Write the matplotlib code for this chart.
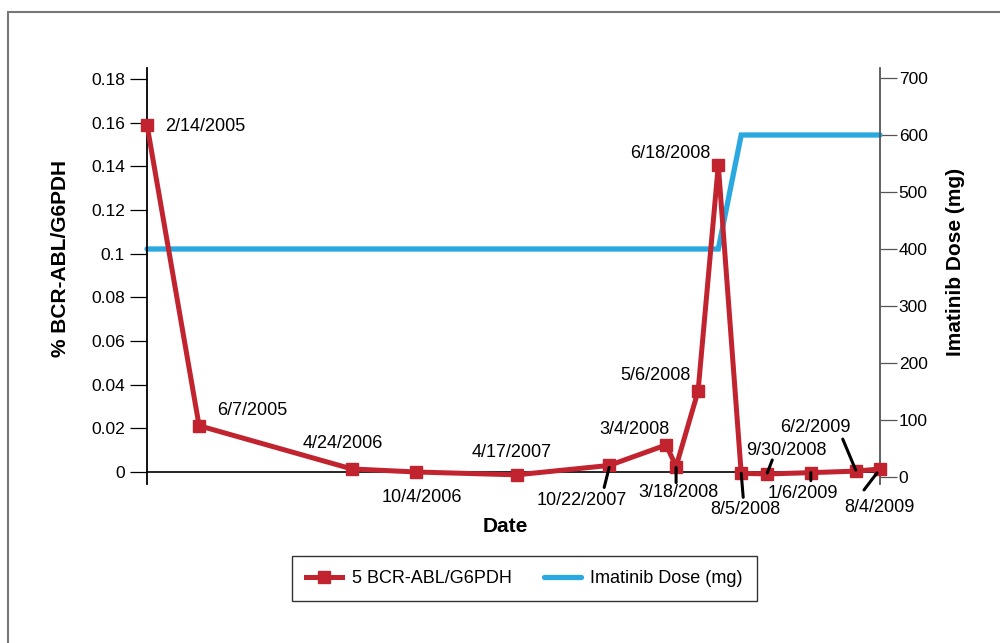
import matplotlib
matplotlib.use("Agg")
import matplotlib.pyplot as plt
from matplotlib.patches import Rectangle
from matplotlib.transforms import offset_copy

plt.rcParams['font.family'] = ['Liberation Sans', 'DejaVu Sans']

# ---- data ----
sample_dates = ['2/14/2005', '6/7/2005', '4/24/2006', '10/4/2006', '4/17/2007',
                '10/22/2007', '3/4/2008', '3/18/2008', '5/6/2008', '6/18/2008',
                '8/5/2008', '9/30/2008', '1/6/2009', '6/2/2009', '8/4/2009']
# position of each sample along the (unlabelled) time axis, as plotted (days from first sample)
sample_pos = [0, 116, 456, 600, 823, 1029, 1156, 1178, 1227, 1272,
              1323, 1381, 1478, 1578, 1632]
bcr_abl = [0.159, 0.0212, 0.0014, 0.0, -0.0013, 0.003, 0.0124, 0.0025, 0.0371, 0.1406,
           -0.0006, -0.0009, -0.0003, 0.0004, 0.0014]

dose_pos = [0, 1272, 1323, 1632]
dose_mg = [400, 400, 600, 600]

left_ticks = [0, 0.02, 0.04, 0.06, 0.08, 0.1, 0.12, 0.14, 0.16, 0.18]
left_ticklabels = ['0', '0.02', '0.04', '0.06', '0.08', '0.1', '0.12', '0.14', '0.16', '0.18']
right_ticks = [0, 100, 200, 300, 400, 500, 600, 700]

# label placement: (text offset dx, dy in px, ha, leader start, leader end)
label_style = [
    (18, -2, 'left', None),
    (18, 15, 'left', None),
    (-9, 25, 'center', None),
    (5, -25, 'center', None),
    (-5, 22, 'center', None),
    (-27, -35, 'center', ((-5, -22), (0, -2))),
    (-32, 15, 'center', None),
    (2, -26, 'center', ((0, -16), (0, -1))),
    (-43, 15, 'center', None),
    (-48, 12, 'center', None),
    (4, -36, 'center', ((0, 0), (2, -24))),
    (19, 23, 'center', ((0, 1), (5, 14))),
    (-8, -21, 'center', ((0, 0), (0, -8))),
    (-40, 44, 'center', ((-13, 32), (0, 1))),
    (-1, -39, 'center', ((-16, -21), (-3, -4))),
]

RED = '#C1232F'
BLUE = '#29A9E0'

fig = plt.figure(figsize=(10, 6.43), dpi=100)
W, H = 1000, 643
x0, x1, y0, y1 = 147, 880, 68, 484
ax = fig.add_axes([x0 / W, 1 - y1 / H, (x1 - x0) / W, (y1 - y0) / H])
ax2 = ax.twinx()

ax.set_zorder(ax2.get_zorder() + 1)
ax.patch.set_visible(False)

# left axis scale: 0 at y=472, 0.18 at y=79
ppu_left = (472 - 79) / 0.18
ax.set_ylim(-(y1 - 472) / ppu_left, 0.18 + (79 - y0) / ppu_left)
# right axis scale: 0 at y=477, 700 at y=78
ppu_right = (477 - 78) / 700
ax2.set_ylim(-(y1 - 477) / ppu_right, 700 + (78 - y0) / ppu_right)
ax.set_xlim(sample_pos[0], sample_pos[-1])

ax2.plot(dose_pos, dose_mg, color=BLUE, lw=3.8, solid_capstyle='round',
         solid_joinstyle='miter', label='Imatinib Dose (mg)', clip_on=False)
ax.plot(sample_pos, bcr_abl, color=RED, lw=3.6, marker='s', markersize=8,
        label='5 BCR-ABL/G6PDH', clip_on=False, zorder=5)

# spines
for s in ['top', 'right']:
    ax.spines[s].set_visible(False)
for s in ['top', 'left', 'bottom']:
    ax2.spines[s].set_visible(False)
ax.spines['bottom'].set_position(('data', 0))
ax.spines['bottom'].set_linewidth(1.2)
ax.spines['left'].set_linewidth(1.3)
ax2.spines['right'].set_linewidth(1.3)
ax2.spines['right'].set_color('#555555')

ax.set_xticks([])
ax.set_yticks(left_ticks)
ax.set_yticklabels(left_ticklabels)
ax.tick_params(axis='y', length=12.5, width=0.9, pad=3.5, labelsize=12.5, colors='black')
ax2.set_yticks(right_ticks)
ax2.tick_params(axis='y', length=12.5, width=0.9, pad=1, labelsize=12.5, color='#555555',
                labelcolor='black')

# axis labels
ax.set_ylabel('% BCR-ABL/G6PDH', fontsize=15, fontweight='bold')
ax.yaxis.set_label_coords((60 - x0) / (x1 - x0), (y1 - 258) / (y1 - y0))
ax.yaxis.label.set_va('center')
ax2.set_ylabel('Imatinib Dose (mg)', fontsize=15, fontweight='bold')
ax2.yaxis.set_label_coords((956 - x0) / (x1 - x0), (y1 - 262) / (y1 - y0))
ax2.yaxis.label.set_va('center')
ax.set_xlabel('Date', fontsize=15, fontweight='bold')
ax.xaxis.set_label_coords((505 - x0) / (x1 - x0), (y1 - 527) / (y1 - y0))
ax.xaxis.label.set_va('center')

# point annotations
for xv, yv, lab, (dx, dy, ha, leader) in zip(sample_pos, bcr_abl, sample_dates, label_style):
    ax.annotate(lab, xy=(xv, yv), xytext=(dx, dy), textcoords='offset pixels',
                ha=ha, va='center', fontsize=13, annotation_clip=False, zorder=6)
    if leader is not None:
        (sx, sy), (ex, ey) = leader
        ax.annotate('', xy=(xv, yv),
                    xycoords=offset_copy(ax.transData, fig=fig, x=ex, y=ey, units='dots'),
                    xytext=(xv, yv),
                    textcoords=offset_copy(ax.transData, fig=fig, x=sx, y=sy, units='dots'),
                    arrowprops=dict(arrowstyle='-', lw=2.2, color='black',
                                    shrinkA=0, shrinkB=0),
                    annotation_clip=False, zorder=7)

# legend
h1, l1 = ax.get_legend_handles_labels()
h2, l2 = ax2.get_legend_handles_labels()
leg = fig.legend(h1 + h2, l1 + l2, loc='center', bbox_to_anchor=(524.5 / W, 1 - 578.5 / H),
                 ncol=2, fontsize=13, frameon=True, fancybox=False, edgecolor='black',
                 numpoints=1, handlelength=2.0, handletextpad=0.55, columnspacing=1.8,
                 borderpad=0.75)
leg.get_frame().set_linewidth(1.0)

# outer frame (only top and left edges fall inside the image)
fig.add_artist(Rectangle((8 / W, -0.1), 1.2, (1 - 12 / H) + 0.1, transform=fig.transFigure,
                         fill=False, edgecolor='#777777', lw=1.5))

fig.savefig('out.png', dpi=100)
